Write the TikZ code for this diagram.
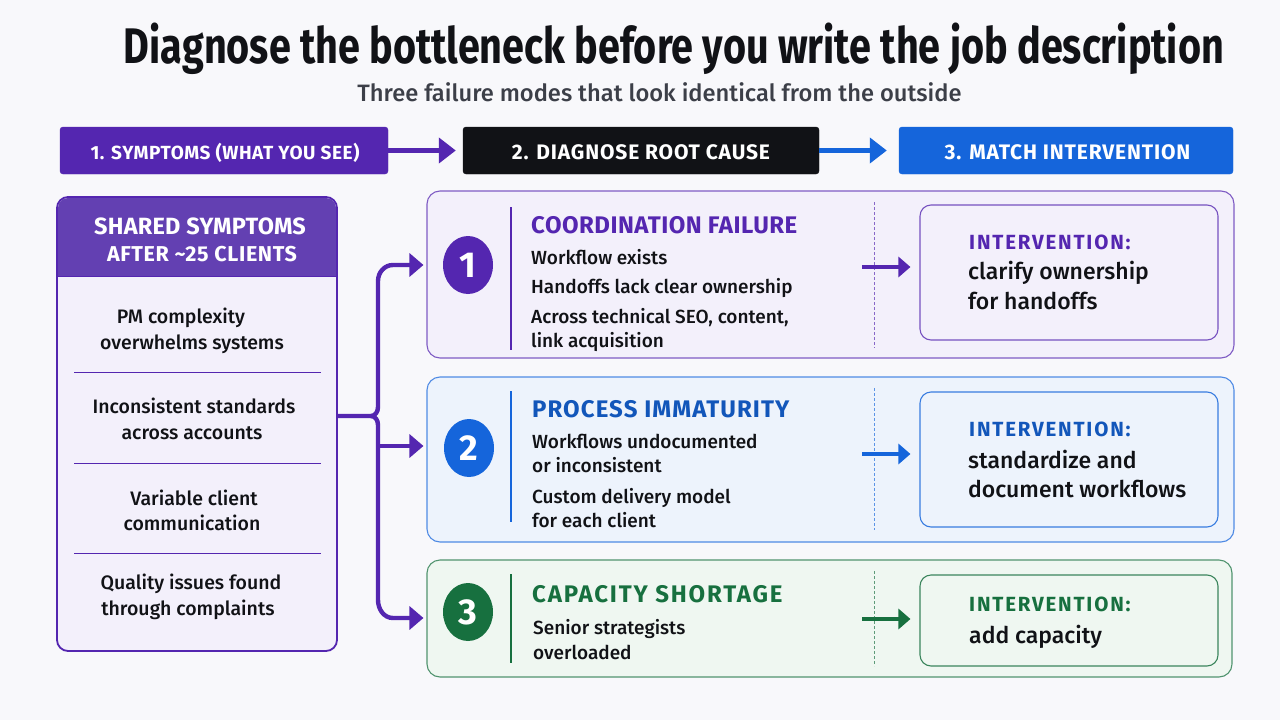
\documentclass[tikz,border=0pt]{standalone}
\usepackage{fontspec}
\setmainfont{Liberation Sans}
\newfontfamily\labelfont{Fira Sans}
\newfontfamily\midfont{Fira Sans Medium}
\usetikzlibrary{arrows.meta,shapes.geometric}
\definecolor{paper}{HTML}{F8F8FB}
\definecolor{purp}{HTML}{5426B0}
\definecolor{purphead}{HTML}{6340B2}
\definecolor{purpfill}{HTML}{F3F0FB}
\definecolor{blu}{HTML}{1565DB}
\definecolor{bluefill}{HTML}{EDF3FC}
\definecolor{grn}{HTML}{17703F}
\definecolor{grnfill}{HTML}{EFF7F1}
\definecolor{ink}{HTML}{111216}
\definecolor{subink}{HTML}{3C3F48}

\tikzset{
  bar/.style={draw=#1, fill=#1, rounded corners=3pt, inner sep=0pt, minimum height=47pt,
    text height=18pt, text depth=0pt, text=white,
    font=\labelfont\fontsize{21}{24}\selectfont\bfseries\addfontfeature{LetterSpace=4}},
  panel/.style 2 args={draw=#1, fill=#2, line width=1.1pt, rounded corners=13pt, inner sep=0pt},
  intbox/.style={draw=#1, line width=1.1pt, rounded corners=11pt, inner sep=0pt},
  badge/.style={ellipse, fill=#1, text=white, inner sep=0pt, minimum width=50pt, minimum height=58pt,
    font=\labelfont\fontsize{36}{40}\selectfont\bfseries},
  head/.style={anchor=base west, text=#1, inner sep=0pt,
    font=\labelfont\fontsize{24}{28}\selectfont\bfseries\addfontfeature{LetterSpace=2}},
  body/.style={anchor=base west, text=ink, inner sep=0pt,
    font=\midfont\fontsize{19}{22}\selectfont},
  symp/.style={anchor=base, text=ink, inner sep=0pt,
    font=\midfont\fontsize{19.5}{22}\selectfont},
  inthead/.style={anchor=base west, text=#1, inner sep=0pt,
    font=\labelfont\fontsize{20.5}{22}\selectfont\bfseries\addfontfeature{LetterSpace=8.8}},
  intbody/.style={anchor=base west, text=ink, inner sep=0pt,
    font=\midfont\fontsize{23}{26}\selectfont},
  flow/.style 2 args={draw=#1, line width=5pt, shorten >=#2, -{Triangle[length=17pt,width=25pt]}},
  link/.style={draw=#1, line width=3.6pt, shorten >=9pt, -{Triangle[length=12pt,width=20pt]}},
  branch/.style={draw=purp, line width=4.4pt, shorten >=3pt, -{Triangle[length=14pt,width=23pt]}},
}

\begin{document}
\begin{tikzpicture}[x=1pt,y=-1pt]
  \useasboundingbox[fill=paper] (0,0) rectangle (1280,720);

  % Titulo
  \node[anchor=base, inner sep=0pt, text=ink, font=\labelfont\fontsize{50}{52}\selectfont\bfseries] (title) at (674,63)
    {\resizebox{1100pt}{\height}{Diagnose the bottleneck before you write the job description}};
  \node[anchor=base, inner sep=0pt, text=subink, font=\midfont\fontsize{23.7}{28}\selectfont] (subtitle) at (659.5,101)
    {Three failure modes that look identical from the outside};

  % Barras superiores
  \node[bar=purp, minimum width=328pt, font=\labelfont\fontsize{19}{24}\selectfont\bfseries\addfontfeature{LetterSpace=3}] (symbar) at (224,150.5) {\hspace{2pt}1. SYMPTOMS (WHAT YOU SEE)};
  \node[bar=ink, minimum width=356pt] (rootbar) at (641,150.5) {2. DIAGNOSE ROOT CAUSE};
  \node[bar=blu, minimum width=334pt] (matchbar) at (1066,150.5) {\hspace{3pt}3. MATCH INTERVENTION};
  \draw[flow={purp}{7pt}] (symbar) -- (rootbar);
  \draw[flow={blu}{12pt}] (rootbar) -- (matchbar);

  % Columna de sintomas
  \node[draw=purp, fill=purpfill, line width=1.8pt, rounded corners=11pt, inner sep=0pt,
    minimum width=280pt, minimum height=454pt] (sympbox) at (197,424) {};
  \fill[purphead, rounded corners=10pt] (58,198) rectangle (336,240);
  \fill[purphead] (58,225) rectangle (336,276);
  \draw[purp, line width=1pt] (58,276) -- (336,276);
  \node[anchor=base, inner sep=0pt, text=white, font=\labelfont\fontsize{23.5}{28}\selectfont\bfseries\addfontfeature{LetterSpace=1}] (symphead) at (200,234) {SHARED SYMPTOMS};
  \node[anchor=base, inner sep=0pt, text=white, font=\labelfont\fontsize{21.5}{24}\selectfont\bfseries\addfontfeature{LetterSpace=3}] (symphead2) at (202,261) {AFTER \textasciitilde 25 CLIENTS};

  \foreach \n/\x/\y/\t in {a/181/323/PM complexity, b/192/349/overwhelms systems,
      c/194/413/Inconsistent standards, d/192/439/across accounts,
      e/194/505/Variable client, f/192/530/communication,
      g/191/589/Quality issues found, h/188/615/through complaints}
    \node[symp] (symp\n) at (\x,\y) {\t};
  \foreach \y in {372,463,553}
    \draw[purp, line width=0.9pt] (74,\y) -- (321,\y);

  % Paneles
  \node[panel={purp!75}{purpfill}, minimum width=807pt, minimum height=167pt] (coordpanel) at (830.5,274.5) {};
  \node[panel={blu!75}{bluefill}, minimum width=807pt, minimum height=165pt] (procpanel) at (830.5,459.5) {};
  \node[panel={grn!75}{grnfill}, minimum width=805pt, minimum height=117pt] (cappanel) at (829.5,618.5) {};

  \node[badge=purp] (coordbadge) at (468,265) {1};
  \node[badge=blu] (procbadge) at (469,448) {2};
  \node[badge=grn] (capbadge) at (468,612) {3};

  \draw[purp, line width=1.6pt] (511,207) -- (511,350);
  \draw[blu, line width=1.6pt] (511,391) -- (511,522);
  \draw[grn, line width=1.6pt] (511,574) -- (511,663);

  \node[head=purp] (coordhead) at (531,233) {COORDINATION FAILURE};
  \foreach \n/\y/\t in {a/264/Workflow exists, b/293/Handoffs lack clear ownership,
      c/323/{Across technical SEO, content,}, d/347/link acquisition}
    \node[body] (coord\n) at (531,\y) {\t};

  \node[head=blu!85!black] (prochead) at (532,417) {\addfontfeature{LetterSpace=4.5}PROCESS IMMATURITY};
  \foreach \n/\y/\t in {a/448/Workflows undocumented, b/472/or inconsistent,
      c/503/Custom delivery model, d/527/for each client}
    \node[body] (proc\n) at (532,\y) {\t};

  \node[head=grn] (caphead) at (532,602) {\addfontfeature{LetterSpace=7.6}CAPACITY SHORTAGE};
  \foreach \n/\y/\t in {a/634/Senior strategists, b/659/overloaded}
    \node[body] (cap\n) at (533,\y) {\t};

  % Separadores punteados
  \draw[purp!70, densely dashed, line width=0.6pt] (874,202) -- (874,348);
  \draw[blu!70, densely dashed, line width=0.6pt] (874,388) -- (874,530);
  \draw[grn!70, densely dashed, line width=0.6pt] (874,571) -- (874,666);

  % Intervenciones
  \node[intbox=purp!80, minimum width=298pt, minimum height=135pt] (coordint) at (1069,272.5) {};
  \node[intbox=blu!85, minimum width=298pt, minimum height=135pt] (procint) at (1069,459.5) {};
  \node[intbox=grn!85, minimum width=298pt, minimum height=91pt] (capint) at (1069,620.5) {};

  \node[inthead=purp] (coordinthead) at (969,249) {INTERVENTION:};
  \node[intbody] (coordinta) at (968,279) {clarify ownership};
  \node[intbody] (coordintb) at (968,309) {for handoffs};
  \node[inthead=blu!85!black] (procinthead) at (969,436) {INTERVENTION:};
  \node[intbody] (procinta) at (968,468) {standardize and};
  \node[intbody] (procintb) at (968,497) {document workflows};
  \node[inthead=grn] (capinthead) at (969,611) {INTERVENTION:};
  \node[intbody] (capinta) at (969,643) {add capacity};

  % Flechas panel a intervencion
  \coordinate (coordout) at (862,267);
  \coordinate (procout) at (862,454);
  \coordinate (capout) at (862,619);
  \draw[link=purp] (coordout) -- (coordint.west |- coordout);
  \draw[link=blu] (procout) -- (procint.west |- procout);
  \draw[link=grn] (capout) -- (capint.west |- capout);

  % Ramas desde los sintomas
  \coordinate (fork) at (371,416);
  \draw[branch] (sympbox.east |- fork) -- (fork) to[out=0,in=-90] (378,407) -- (378,281)
    to[out=90,in=180] (393,265) -- (coordpanel.west |- 0,265);
  \draw[branch] (fork) to[out=0,in=90] (378,425) -- (378,600)
    to[out=-90,in=180] (393,618) -- (cappanel.west |- 0,618);
  \draw[branch] (378,446) -- (procpanel.west |- 0,446);
\end{tikzpicture}
\end{document}
